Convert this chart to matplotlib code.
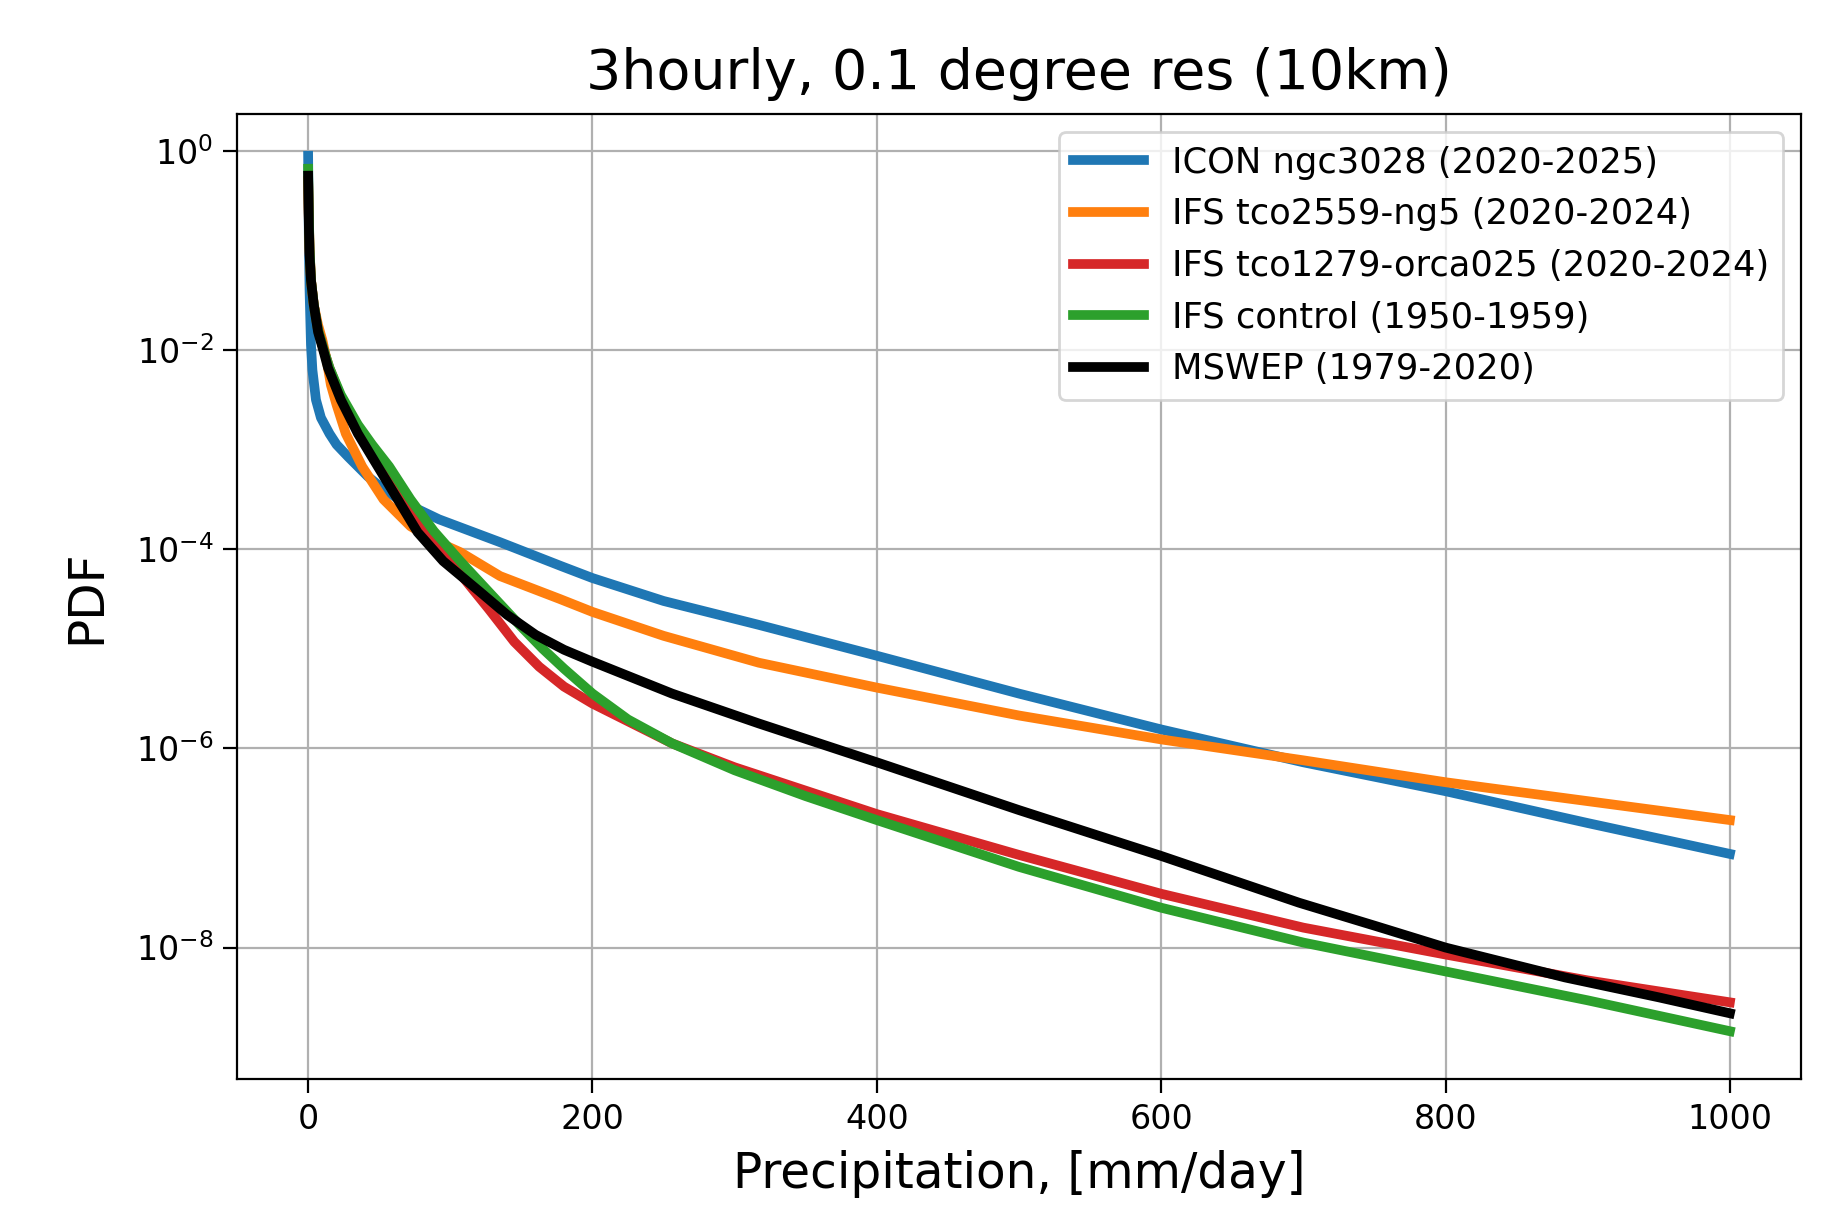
import numpy as np
import matplotlib
matplotlib.use("Agg")
import matplotlib.pyplot as plt
from matplotlib.ticker import NullLocator

# ---- data (x in mm/day, values are log10(PDF)) ----
icon_x = [0, 0.5, 1, 2, 3, 5.5, 9, 15, 20, 28, 42, 55, 70, 92, 135, 178, 200, 250, 317, 400, 500, 600, 700, 800, 900, 1000]
icon_log = [-0.05, -0.9, -1.4, -1.95, -2.2, -2.5, -2.68, -2.84, -2.95, -3.07, -3.27, -3.42, -3.55, -3.70, -3.93,
            -4.17, -4.29, -4.52, -4.76, -5.07, -5.45, -5.81, -6.14, -6.43, -6.75, -7.06]

ifs2559_x = [0, 0.5, 1, 2, 4, 7, 10, 13, 16, 20, 26.5, 38, 53, 72, 90, 107, 135, 177, 200, 250, 317, 400, 500, 600, 700, 800, 900, 1000]
ifs2559_log = [-0.3, -0.7, -1.0, -1.3, -1.55, -1.75, -1.9, -2.1, -2.35, -2.55, -2.84, -3.17, -3.5, -3.77, -3.92,
               -4.03, -4.27, -4.5, -4.63, -4.87, -5.14, -5.39, -5.67, -5.91, -6.12, -6.34, -6.53, -6.72]

ifs1279_x = [0, 0.5, 1, 2, 4, 7, 11, 15, 23, 35, 45, 57, 72, 92, 110, 127, 145, 162.5, 180, 200, 256, 300, 400, 500, 600, 700, 800, 900, 1000]
ifs1279_log = [-0.3, -0.68, -1.0, -1.3, -1.55, -1.8, -2.0, -2.18, -2.47, -2.78, -2.98, -3.22, -3.58, -3.97, -4.3,
               -4.6, -4.93, -5.18, -5.38, -5.55, -5.95, -6.19, -6.66, -7.07, -7.46, -7.8, -8.07, -8.33, -8.55]

ctrl_x = [0, 0.5, 1, 2, 4, 7, 11, 15, 23, 35, 45, 57, 72, 88.5, 107, 120, 135, 150, 165, 180, 200, 225, 256, 300, 350, 400, 500, 600, 700, 800, 900, 1000]
ctrl_log = [-0.18, -0.65, -0.98, -1.3, -1.55, -1.8, -2.0, -2.18, -2.45, -2.75, -2.95, -3.17, -3.5, -3.82, -4.12,
            -4.32, -4.55, -4.78, -5.0, -5.2, -5.45, -5.71, -5.95, -6.22, -6.48, -6.72, -7.19, -7.6, -7.95, -8.24, -8.53, -8.84]

mswep_x = [0, 0.5, 1, 2, 4, 7, 11, 14, 23, 35, 49, 63, 77, 95, 121, 140, 160, 180, 200, 256, 317, 400, 500, 600, 697, 750, 800, 884, 950, 1000]
mswep_log = [-0.25, -0.75, -1.05, -1.3, -1.55, -1.82, -2.02, -2.18, -2.5, -2.84, -3.17, -3.5, -3.83, -4.12, -4.43,
             -4.66, -4.86, -5.01, -5.13, -5.45, -5.75, -6.14, -6.62, -7.08, -7.55, -7.78, -8.0, -8.3, -8.5, -8.66]

labels = ["ICON ngc3028 (2020-2025)", "IFS tco2559-ng5 (2020-2024)",
          "IFS tco1279-orca025 (2020-2024)", "IFS control (1950-1959)", "MSWEP (1979-2020)"]
colors = ["#1f77b4", "#ff7f0e", "#d62728", "#2ca02c", "black"]

series = [(icon_x, icon_log), (ifs2559_x, ifs2559_log), (ifs1279_x, ifs1279_log),
          (ctrl_x, ctrl_log), (mswep_x, mswep_log)]

fig = plt.figure(figsize=(9.195, 6.03), dpi=200)
ax = fig.add_axes([0.1289, 0.1053, 0.8504, 0.8002])

for (xs, ls), lab, c in zip(series, labels, colors):
    ax.plot(xs, 10.0 ** np.array(ls), color=c, lw=3.5, label=lab)

ax.set_yscale("log")
ax.set_xlim(-50, 1050)
ax.set_ylim(10 ** -9.32, 10 ** 0.37)
ax.yaxis.set_minor_locator(NullLocator())
ax.grid(True)
ax.tick_params(labelsize=12, length=5)
ax.set_title("3hourly, 0.1 degree res (10km)", fontsize=20, pad=9)
ax.set_xlabel("Precipitation, [mm/day]", fontsize=17.5, labelpad=5)
ax.set_ylabel("PDF", fontsize=17.5, labelpad=9)
ax.legend(loc="upper right", fontsize=12.7)

fig.savefig("out.png", dpi=200)
